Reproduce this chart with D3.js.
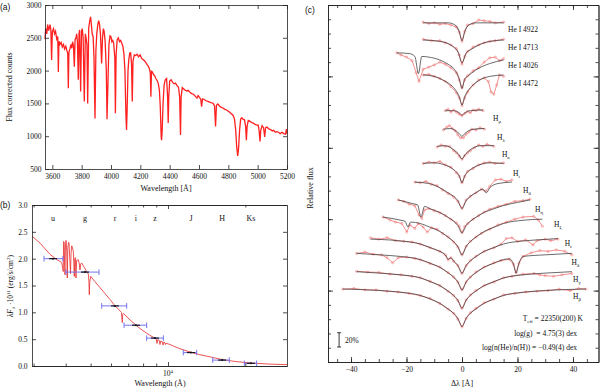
<!DOCTYPE html>
<html>
<head>
<meta charset="utf-8">
<script src="https://cdn.jsdelivr.net/npm/d3@7"></script>
<style>
  body { margin: 0; background: #fff; }
  svg text { font-family: "Liberation Serif", "DejaVu Serif", serif; fill: #111; white-space: pre; }
</style>
</head>
<body>
<svg id="fig" width="600" height="389"></svg>
<script>

// (a) observed spectrum, [wavelength A, counts]
var spectrumA = [
  [3550,2480],[3555,2640],[3562,2560],[3568,2700],[3575,2610],[3584,2700],[3590,2620],[3595,2160],[3600,2590],
  [3608,2640],[3615,2560],[3622,2600],[3630,2480],[3637,2520],[3641,1980],[3645,2450],[3652,2400],[3660,2430],
  [3668,2360],[3676,2400],[3684,2330],[3692,2370],[3700,2300],[3705,2260],[3709,1730],[3713,2280],[3720,2330],
  [3727,2400],[3733,2340],[3738,2440],[3744,2380],[3750,2060],[3755,2470],[3761,2500],[3766,2560],[3771,2440],
  [3777,1860],[3782,2560],[3786,2620],[3793,1680],[3799,2600],[3804,2640],[3810,2500],[3818,1530],[3825,2560],
  [3830,2500],[3836,2400],[3841,1500],[3848,2650],[3855,2760],[3861,2820],[3866,2700],[3872,2560],[3878,2520],
  [3884,2200],[3891,1270],[3897,2300],[3903,2560],[3910,2700],[3916,2760],[3922,2700],[3928,2560],[3936,2110],
  [3942,2500],[3948,2640],[3953,2600],[3960,2450],[3968,2000],[3973,1260],[3979,1800],[3986,2400],[3993,2530],
  [3999,2520],[4006,2440],[4012,2460],[4018,2420],[4026,2200],[4030,1350],[4035,2250],[4042,2470],[4050,2500],
  [4058,2440],[4066,2460],[4073,2420],[4080,2380],[4088,2260],[4095,2000],[4102,1300],[4106,1095],[4110,1400],
  [4116,2000],[4121,2160],[4128,2270],[4134,2270],[4140,2100],[4145,1530],[4150,2150],[4159,2240],[4168,2230],
  [4178,2250],[4188,2210],[4198,2240],[4208,2190],[4218,2170],[4228,2150],[4238,2120],[4246,2090],[4254,2070],
  [4262,2030],[4268,1960],[4272,1600],[4276,1990],[4282,1980],[4290,1940],[4298,1920],[4306,1880],[4314,1850],
  [4322,1810],[4330,1700],[4336,1450],[4342,1000],[4345,940],[4349,1100],[4355,1500],[4362,1780],[4370,1860],
  [4379,1880],[4386,1600],[4390,1200],[4394,1600],[4400,1840],[4410,1860],[4420,1820],[4430,1800],[4440,1810],
  [4450,1770],[4460,1750],[4468,1600],[4474,1020],[4478,1600],[4486,1740],[4496,1720],[4506,1700],[4516,1690],
  [4526,1700],[4538,1670],[4550,1650],[4562,1640],[4574,1610],[4586,1580],[4594,1620],[4604,1590],[4612,1560],
  [4618,1450],[4624,1570],[4636,1560],[4648,1540],[4660,1530],[4672,1520],[4684,1510],[4696,1500],[4706,1460],
  [4713,1150],[4719,1470],[4728,1490],[4740,1460],[4752,1440],[4764,1430],[4776,1410],[4788,1400],[4800,1380],
  [4812,1360],[4822,1340],[4832,1320],[4842,1260],[4850,1100],[4857,840],[4864,700],[4870,820],[4877,1100],
  [4884,1260],[4892,1280],[4900,1260],[4910,1250],[4918,1150],[4923,940],[4928,1150],[4936,1240],[4946,1230],
  [4958,1210],[4970,1200],[4982,1180],[4994,1170],[5004,1170],[5010,1080],[5016,920],[5021,1090],[5030,1160],
  [5040,1130],[5048,990],[5054,1130],[5064,1140],[5076,1110],[5088,1100],[5100,1080],[5110,1090],[5120,1060],
  [5130,1070],[5142,1060],[5154,1040],[5166,1060],[5178,1040],[5190,1030],[5196,1110],[5200,1040]
]

// (b) photometry and model SED
var bands = ["u", "g", "r", "i", "z", "J", "H", "Ks"]
var bandWave = [3568, 4754, 6221, 7505, 8895, 12287, 16230, 21030]
var bandFlux = [2.0, 1.75, 1.12, 0.76, 0.52, 0.25, 0.11, 0.05]
var bandLo = [3293, 4010, 5520, 6745, 8260, 11470, 14930, 19810]
var bandHi = [3900, 5390, 6906, 8260, 9590, 12930, 17320, 22120]

var sedModel = [
  [2960,2.42],[3177,2.29],[3475,2.08],[3700,1.98],[3858,1.93],[3900,1.80],[3913,1.76],
  [3925,2.32],[3945,2.30],[3962,1.85],[3974,1.70],[3988,2.2],[4010,2.34],[4035,2.15],[4057,1.64],[4075,2.2],
  [4100,2.3],[4120,2.3],[4150,1.98],[4175,1.72],[4195,2.1],[4220,2.24],[4250,2.2],[4281,2.14],[4300,1.92],
  [4319,1.67],[4338,2.0],[4360,2.02],[4385,1.64],[4410,1.97],[4477,1.98],[4520,1.9],[4545,1.79],[4575,1.9],
  [4615,1.92],[4720,1.84],[4827,1.76],[4900,1.71],[4925,1.56],[4941,1.33],[4960,1.56],[5003,1.67],[5200,1.57],
  [5438,1.46],[5687,1.35],[5946,1.24],[6221,1.12],[6505,1.03],[6590,1.0],[6622,0.86],[6640,0.81],[6665,0.96],
  [6700,0.98],[6804,0.95],[7115,0.86],[7505,0.76],[7780,0.70],[8150,0.63],[8511,0.57],[8895,0.52],[9000,0.505],
  [9062,0.42],[9120,0.49],[9250,0.475],[9309,0.40],[9370,0.465],[9500,0.45],[9562,0.39],[9620,0.445],[9735,0.43],
  [9780,0.40],[9830,0.425],[10180,0.40],[11000,0.33],[12287,0.255],[13318,0.21],[14570,0.17],[16230,0.12],
  [18210,0.085],[21030,0.055],[24920,0.035],[29040,0.025]
]

// (c) line profiles, top to bottom, [delta lambda, relative flux]
var lineNames = ["He I 4922", "He I 4713", "He I 4026", "He I 4472", "Hμ", "Hλ", "Hκ", "Hι", "Hθ", "Hη", "Hζ", "Hε", "Hδ", "Hγ", "Hβ"]

var fitProfiles = [
  [[-14,4.75],[-5,4.75],[-2.5,4.72],[-1,4.63],[0,4.5],[1,4.63],[2.5,4.72],[5,4.75],[15,4.75]],
  [[-14,4.51],[-8,4.49],[-5,4.46],[-3,4.41],[-1.4,4.34],[0,4.19],[1.5,4.33],[3,4.37],[6,4.44],[10,4.49],[15,4.51]],
  [[-23.5,4.33],[-19,4.32],[-17,4.28],[-15.7,4.04],[-14.5,4.28],[-12,4.27],[-8,4.23],[-5,4.17],[-3,4.11],[-1,3.97],[0,3.83],[1,3.97],[2,4.0],[5,4.09],[10,4.18],[15,4.23]],
  [[-14,4.02],[-10,4.0],[-6,3.93],[-4,3.88],[-2,3.79],[-1,3.72],[0,3.6],[1,3.72],[2,3.79],[4,3.88],[6,3.94],[10,4.0],[15,4.02]],
  [[-6,3.52],[-3,3.52],[-1,3.49],[0,3.46],[1,3.49],[3,3.52],[7.6,3.53]],
  [[-6.7,3.26],[-4,3.27],[-2,3.23],[-1,3.2],[0,3.16],[1,3.2],[2,3.23],[4,3.26],[8.1,3.27]],
  [[-9,3.02],[-6,3.03],[-4,3.0],[-2,2.94],[-1,2.9],[0,2.84],[1,2.9],[2,2.94],[4,3.0],[7,3.03],[11.5,3.03]],
  [[-14,2.78],[-10,2.79],[-7,2.77],[-4,2.72],[-2,2.66],[-1,2.61],[0,2.51],[1,2.61],[2,2.66],[4,2.72],[7,2.77],[10,2.79],[15,2.78]],
  [[-17,2.52],[-12,2.5],[-8,2.44],[-5,2.37],[-3,2.32],[-1.5,2.26],[0,2.15],[1.5,2.26],[3,2.32],[5,2.37],[7.5,2.42],[8.8,2.37],[10,2.44],[13,2.5],[18,2.52]],
  [[-23,2.27],[-18,2.22],[-16,2.2],[-14.8,2.03],[-13.5,2.18],[-11.5,2.146],[-8,2.095],[-5,2.026],[-3,1.971],[-1.5,1.911],[0,1.81],[1.5,1.911],[3,1.971],[5,2.026],[8,2.095],[11.5,2.146],[15,2.192],[20,2.235],[24.5,2.27]],
  [[-28.5,2.03],[-22,1.985],[-20.5,1.97],[-19.5,1.89],[-18.5,1.96],[-15,1.94],[-11.5,1.887],[-8,1.829],[-5,1.749],[-3,1.686],[-1.5,1.617],[0,1.5],[1.5,1.617],[3,1.686],[5,1.749],[8,1.829],[11.5,1.887],[15,1.94],[22,1.985],[29,2.0]],
  [[-33,1.72],[-30,1.717],[-22,1.695],[-15,1.653],[-11.5,1.603],[-8,1.549],[-6,1.5],[-5,1.44],[-4,1.46],[-3,1.415],[-1.5,1.351],[0,1.242],[1.5,1.351],[3,1.415],[5,1.475],[8,1.549],[11.5,1.603],[15,1.653],[22,1.695],[30,1.717],[34.6,1.73]],
  [[-38,1.522],[-30,1.501],[-22,1.478],[-15,1.435],[-11.5,1.383],[-8,1.327],[-5,1.25],[-3,1.188],[-1.5,1.121],[0,1.008],[1.5,1.121],[3,1.188],[5,1.25],[8,1.327],[11.5,1.383],[15,1.435],[17,1.445],[18.5,1.38],[19.5,1.245],[20.5,1.38],[22,1.478],[30,1.501],[39.6,1.522]],
  [[-38,1.265],[-30,1.245],[-22,1.221],[-15,1.178],[-11.5,1.126],[-8,1.07],[-5,0.993],[-3,0.932],[-1.5,0.865],[0,0.752],[1.5,0.865],[3,0.932],[5,0.993],[8,1.07],[11.5,1.126],[15,1.178],[22,1.221],[30,1.245],[39.6,1.265]],
  [[-43,1.022],[-30,1.002],[-22,0.977],[-15,0.932],[-11.5,0.882],[-8,0.822],[-5,0.742],[-3,0.682],[-1.5,0.612],[0,0.497],[1.5,0.612],[3,0.682],[5,0.742],[8,0.822],[11.5,0.882],[15,0.932],[22,0.977],[30,1.002],[44.7,1.022]]
]

var obsProfiles = [
  [[-14,4.76],[-12,4.74],[-10,4.75],[-8,4.73],[-6,4.74],[-4,4.72],[-2,4.69],[-1,4.62],[0,4.49],[1,4.63],[2,4.72],[4,4.74],[6,4.79],[8,4.78],[10,4.77],[12,4.75],[15,4.76]],
  [[-14,4.52],[-11,4.5],[-8,4.5],[-6,4.47],[-4,4.44],[-2,4.39],[-1,4.3],[0,4.17],[1,4.28],[2,4.35],[4,4.41],[6,4.44],[8,4.47],[10,4.49],[12,4.5],[15,4.52]],
  [[-23.5,4.33],[-22,4.3],[-20,4.27],[-18,4.22],[-16.5,4.05],[-15.5,3.93],[-14,4.1],[-12,4.13],[-10,4.16],[-8,4.2],[-6,4.17],[-4,4.12],[-2,4.05],[-1,3.95],[0,3.84],[1,3.95],[2,4.01],[4,4.08],[6,4.12],[8,4.2],[10,4.26],[12,4.27],[13.5,4.22],[15,4.25]],
  [[-14,4.02],[-12,4.03],[-10,4.0],[-8,3.97],[-6,3.93],[-4,3.86],[-2,3.77],[-1,3.7],[0,3.59],[1,3.7],[2,3.78],[4,3.88],[6,3.95],[8,3.98],[9.5,3.93],[10.5,3.78],[11.5,3.75],[12.5,3.88],[13.5,4.02],[15,4.0]],
  [[-6,3.52],[-5,3.54],[-4,3.5],[-3,3.53],[-2,3.5],[-1,3.47],[0,3.45],[1,3.48],[2,3.51],[3,3.49],[4,3.53],[5,3.52],[6,3.54],[7.6,3.52]],
  [[-6.7,3.25],[-5.5,3.29],[-4.5,3.31],[-3.5,3.27],[-2.5,3.24],[-1.5,3.18],[-0.5,3.14],[0.5,3.14],[1.5,3.19],[2.5,3.22],[3.5,3.26],[5,3.25],[6.5,3.28],[8.1,3.26]],
  [[-9,3.01],[-7.5,3.04],[-6,3.02],[-4.5,3.02],[-3,2.96],[-2,2.93],[-1,2.88],[0,2.84],[1,2.89],[2,2.93],[3,2.96],[4.5,3.0],[6,3.04],[7.5,3.02],[9,3.05],[11.5,3.02]],
  [[-14,2.78],[-12,2.8],[-10,2.79],[-8,2.81],[-6,2.76],[-4,2.73],[-2,2.65],[-1,2.6],[0,2.51],[1,2.6],[2,2.67],[4,2.71],[6,2.76],[8,2.79],[10,2.8],[12,2.78],[15,2.79]],
  [[-17,2.52],[-15,2.51],[-13,2.53],[-11,2.49],[-9,2.47],[-7,2.41],[-5,2.36],[-3,2.31],[-1.5,2.25],[0,2.15],[1.5,2.27],[3,2.32],[5,2.37],[7,2.42],[8.5,2.39],[10,2.46],[12,2.55],[14,2.56],[16,2.53],[18,2.55]],
  [[-23,2.27],[-21,2.25],[-19,2.21],[-17,2.19],[-15.5,2.06],[-14.5,2.01],[-13.5,2.13],[-12,2.15],[-10,2.12],[-8,2.09],[-6,2.05],[-4,2.0],[-2,1.95],[-1,1.9],[0,1.81],[1,1.9],[2,1.94],[4,2.0],[6,2.05],[8,2.1],[10,2.14],[13,2.18],[16,2.21],[19,2.25],[22,2.26],[24.5,2.28]],
  [[-28.5,2.03],[-26,1.99],[-24,1.96],[-21.7,1.94],[-19.9,1.82],[-18.8,1.92],[-17,1.87],[-15.8,1.94],[-14,1.89],[-12.5,1.82],[-11,1.88],[-9,1.86],[-7,1.8],[-5,1.75],[-3,1.68],[-1.5,1.61],[0,1.5],[1.5,1.62],[3,1.69],[5,1.75],[7,1.8],[10,1.86],[13,1.92],[16,1.96],[19,2.0],[22,2.03],[25.8,2.04],[27.5,1.99],[29,1.9]],
  [[-33,1.74],[-30,1.72],[-27,1.74],[-24,1.7],[-21,1.69],[-18,1.68],[-15,1.65],[-11.5,1.6],[-8,1.55],[-6,1.5],[-5,1.43],[-4,1.46],[-3,1.41],[-1.5,1.35],[0,1.24],[1.5,1.35],[3,1.42],[5,1.48],[8,1.55],[11.5,1.6],[14,1.65],[16,1.73],[18,1.74],[20,1.69],[23,1.71],[25.6,1.64],[27,1.7],[30,1.72],[32,1.7],[34.6,1.72]],
  [[-38,1.52],[-35,1.54],[-32,1.51],[-29,1.5],[-27,1.46],[-25,1.39],[-23,1.46],[-20,1.47],[-17,1.45],[-15,1.43],[-11.5,1.38],[-8,1.33],[-5,1.25],[-3,1.19],[-1.5,1.12],[0,1.01],[1.5,1.12],[3,1.19],[5,1.26],[8,1.33],[11.5,1.39],[14,1.42],[17,1.44],[18.5,1.37],[19.5,1.25],[20.5,1.38],[22,1.48],[25,1.53],[28,1.56],[31,1.55],[34,1.57],[37,1.55],[39.6,1.5]],
  [[-38,1.27],[-34,1.26],[-30,1.255],[-26,1.23],[-22,1.22],[-18,1.2],[-15,1.18],[-11.5,1.13],[-8,1.07],[-5,0.99],[-3,0.93],[-1.5,0.86],[0,0.75],[1.5,0.87],[3,0.94],[5,1.0],[8,1.07],[11.5,1.12],[15,1.18],[18,1.2],[22,1.23],[26,1.24],[28,1.22],[30,1.21],[33,1.2],[36,1.22],[39.6,1.24]],
  [[-43,1.02],[-39,1.03],[-35,1.01],[-31,1.01],[-27,0.99],[-23,0.98],[-19,0.96],[-15,0.93],[-11.5,0.89],[-8,0.82],[-5,0.74],[-3,0.68],[-1.5,0.6],[0,0.49],[1.5,0.61],[3,0.69],[5,0.75],[8,0.83],[11.5,0.88],[15,0.94],[19,0.96],[23,0.98],[27,0.99],[31,1.0],[35,1.02],[39,1.0],[42,1.03],[44.7,1.02]]
]

// where each line name sits, [delta lambda, relative flux]
var labelSpot = [[16.6,4.66],[16.6,4.41],[16.6,4.16],[16.6,3.91],[11.2,3.42],[12.6,3.15],[14.4,2.91],[18.4,2.65],
                 [22,2.41],[26.3,2.14],[33.2,1.93],[37,1.67],[39.5,1.40],[40,1.16],[40,0.915]]

var serif = "Liberation Serif, DejaVu Serif, serif"
var sans = "Liberation Sans, Arial, sans-serif"

window.onload = drawFigure

function drawFigure()
{
  svg = d3.select("#fig")
  drawSpectrum(svg)
  drawSed(svg)
  drawLineFits(svg)
}

// common look of every axis
function styleAxis(sel)
{
  sel.attr("font-family", null).attr("font-size", null)
  sel.selectAll("path, line").attr("stroke", "#222").attr("stroke-width", 0.8)
  sel.selectAll("text").attr("font-family", serif).attr("font-size", 7.5).attr("fill", "#111")
}

function panelTag(svg, label, x, y)
{
  svg.append("text").attr("x", x).attr("y", y)
     .style("font-family", sans).attr("font-size", 8.5).text(label)
}

function drawSpectrum(svg)
{
  var x = d3.scaleLinear().domain([3550, 5200]).range([45, 287])
  var y = d3.scaleLinear().domain([500, 3000]).range([169, 5])
  var waveTicks = d3.range(3600, 5201, 200)
  var countTicks = d3.range(500, 3001, 500)

  svg.append("path").datum(spectrumA)
     .attr("fill", "none").attr("stroke", "#ff2020").attr("stroke-width", 1.3)
     .attr("d", d3.line().x(d => x(d[0])).y(d => y(d[1])))

  svg.append("g").attr("transform", "translate(0,169)")
     .call(d3.axisBottom(x).tickValues(waveTicks).tickSize(-4).tickSizeOuter(0).tickPadding(5).tickFormat(d3.format("d")))
     .call(styleAxis)
  svg.append("g").attr("transform", "translate(0,5)")
     .call(d3.axisTop(x).tickValues(waveTicks).tickSize(-4).tickSizeOuter(0).tickFormat(""))
     .call(styleAxis)
  svg.append("g").attr("transform", "translate(45,0)")
     .call(d3.axisLeft(y).tickValues(countTicks).tickSize(-4).tickSizeOuter(0).tickPadding(3.5).tickFormat(d3.format("d")))
     .call(styleAxis)
  svg.append("g").attr("transform", "translate(287,0)")
     .call(d3.axisRight(y).tickValues(countTicks).tickSize(-4).tickSizeOuter(0).tickFormat(""))
     .call(styleAxis)

  svg.append("text").attr("x", 166).attr("y", 190.5).attr("text-anchor", "middle")
     .attr("font-size", 8).text("Wavelength [Å]")
  svg.append("text").attr("transform", "translate(12,87) rotate(-90)").attr("text-anchor", "middle")
     .attr("font-size", 8).text("Flux corrected counts")

  panelTag(svg, "(a)", 0, 9.5)
}

function drawSed(svg)
{
  var x = d3.scaleLog().domain([2957, 29040]).range([32, 287])
  var y = d3.scaleLinear().domain([0, 3]).range([366, 205])
  var minorWaves = [3000, 4000, 5000, 6000, 7000, 8000, 9000, 20000]
  var fluxTicks = d3.range(0, 3.01, 0.5)

  // model
  svg.append("path").datum(sedModel)
     .attr("fill", "none").attr("stroke", "#e8282a").attr("stroke-width", 0.8)
     .attr("d", d3.line().x(d => x(d[0])).y(d => y(d[1])))

  // photometric points with band widths
  var pts = svg.append("g")
  bands.forEach(function(b, i)
  {
    var cy = y(bandFlux[i])
    var x0 = x(bandLo[i]), x1 = x(bandHi[i]), xc = x(bandWave[i])
    pts.append("line").attr("x1", x0).attr("x2", x1).attr("y1", cy).attr("y2", cy)
       .attr("stroke", "#7474ee").attr("stroke-width", 1)
    ;[x0, x1].forEach(function(e)
    {
      pts.append("line").attr("x1", e).attr("x2", e).attr("y1", cy - 2.8).attr("y2", cy + 2.8)
         .attr("stroke", "#7474ee").attr("stroke-width", 1)
    })
    pts.append("line").attr("x1", xc - 4).attr("x2", xc + 4).attr("y1", cy).attr("y2", cy)
       .attr("stroke", "#111").attr("stroke-width", 1.1)
    pts.append("circle").attr("cx", xc).attr("cy", cy).attr("r", 1).attr("fill", "#111")

    svg.append("text").attr("x", xc).attr("y", 221).attr("text-anchor", "middle")
       .attr("font-size", 8).text(b)
  })

  svg.append("g").attr("transform", "translate(0,366)")
     .call(d3.axisBottom(x).tickValues(minorWaves).tickSize(-2.5).tickSizeOuter(0).tickFormat(""))
     .call(styleAxis)
  svg.append("g").attr("transform", "translate(0,366)")
     .call(d3.axisBottom(x).tickValues([10000]).tickSize(-4).tickSizeOuter(0).tickFormat(""))
     .call(styleAxis)
  svg.append("g").attr("transform", "translate(0,205)")
     .call(d3.axisTop(x).tickValues(minorWaves).tickSize(-2.5).tickSizeOuter(0).tickFormat(""))
     .call(styleAxis)
  svg.append("g").attr("transform", "translate(0,205)")
     .call(d3.axisTop(x).tickValues([10000]).tickSize(-4).tickSizeOuter(0).tickFormat(""))
     .call(styleAxis)
  svg.append("g").attr("transform", "translate(32,0)")
     .call(d3.axisLeft(y).tickValues(fluxTicks).tickSize(-4).tickSizeOuter(0).tickPadding(4.5).tickFormat(d3.format(".1f")))
     .call(styleAxis)
  svg.append("g").attr("transform", "translate(287,0)")
     .call(d3.axisRight(y).tickValues(fluxTicks).tickSize(-4).tickSizeOuter(0).tickFormat(""))
     .call(styleAxis)

  var ten = svg.append("text").attr("x", x(10000)).attr("y", 375.5).attr("text-anchor", "middle").attr("font-size", 7.5)
  ten.append("tspan").text("10")
  ten.append("tspan").attr("dy", -3).attr("font-size", 5).text("4")

  svg.append("text").attr("x", 160).attr("y", 386).attr("text-anchor", "middle")
     .attr("font-size", 8).text("Wavelength (Å)")

  var yl = svg.append("text").attr("transform", "translate(13,286) rotate(-90)").attr("text-anchor", "middle").attr("font-size", 7.5)
  yl.append("tspan").attr("font-style", "italic").text("λF")
  yl.append("tspan").attr("font-style", "italic").attr("dy", 1.8).attr("font-size", 5).text("λ")
  yl.append("tspan").attr("dy", -1.8).text(" ·10")
  yl.append("tspan").attr("dy", -3).attr("font-size", 5).text("11")
  yl.append("tspan").attr("dy", 3).text(" (erg/s/cm")
  yl.append("tspan").attr("dy", -3).attr("font-size", 5).text("2")
  yl.append("tspan").attr("dy", 3).text(")")

  panelTag(svg, "(b)", 0, 208)
}

function drawLineFits(svg)
{
  var x = d3.scaleLinear().domain([-48.3, 49.2]).range([328, 598.5])
  var y = d3.scaleLinear().domain([0, 5]).range([362, 5])
  var obsLine = d3.line().x(d => x(d[0])).y(d => y(d[1]))
  var fitLine = d3.line().x(d => x(d[0])).y(d => y(d[1])).curve(d3.curveMonotoneX)

  var body = svg.append("g")
  obsProfiles.forEach(function(prof, i)
  {
    body.append("path").datum(prof).attr("d", obsLine)
        .attr("fill", "none").attr("stroke", "#f07272").attr("stroke-width", 0.8)
    body.selectAll(".o" + i).data(prof).enter().append("circle")
        .attr("cx", d => x(d[0])).attr("cy", d => y(d[1])).attr("r", 1.1)
        .attr("fill", "none").attr("stroke", "#f07272").attr("stroke-width", 0.5)
  })
  fitProfiles.forEach(function(prof)
  {
    body.append("path").datum(prof).attr("d", fitLine)
        .attr("fill", "none").attr("stroke", "#3a3a3a").attr("stroke-width", 0.75)
  })

  // line names
  lineNames.forEach(function(name, i)
  {
    var t = svg.append("text").attr("x", x(labelSpot[i][0])).attr("y", y(labelSpot[i][1]) + 2.8).attr("font-size", 7.5)
    if (name.length == 2)
    {
      t.append("tspan").text("H")
      t.append("tspan").attr("dy", 2).attr("font-size", 5).text(name[1])
    }
    else
    {
      t.text(name)
    }
  })

  // axes
  var minorX = d3.range(-45, 46, 5)
  var majorX = [-40, -20, 0, 20, 40]
  var minorY = d3.range(0, 5.01, 0.2)
  var majorY = d3.range(0, 6, 1)
  svg.append("g").attr("transform", "translate(0,362)")
     .call(d3.axisBottom(x).tickValues(minorX).tickSize(-3).tickSizeOuter(0).tickFormat("")).call(styleAxis)
  svg.append("g").attr("transform", "translate(0,362)")
     .call(d3.axisBottom(x).tickValues(majorX).tickSize(-5).tickSizeOuter(0).tickPadding(5)).call(styleAxis)
  svg.append("g").attr("transform", "translate(0,5)")
     .call(d3.axisTop(x).tickValues(minorX).tickSize(-3).tickSizeOuter(0).tickFormat("")).call(styleAxis)
  svg.append("g").attr("transform", "translate(0,5)")
     .call(d3.axisTop(x).tickValues(majorX).tickSize(-5).tickSizeOuter(0).tickFormat("")).call(styleAxis)
  svg.append("g").attr("transform", "translate(328,0)")
     .call(d3.axisLeft(y).tickValues(minorY).tickSize(-3).tickSizeOuter(0).tickFormat("")).call(styleAxis)
  svg.append("g").attr("transform", "translate(328,0)")
     .call(d3.axisLeft(y).tickValues(majorY).tickSize(-5).tickSizeOuter(0).tickFormat("")).call(styleAxis)
  svg.append("g").attr("transform", "translate(598.5,0)")
     .call(d3.axisRight(y).tickValues(minorY).tickSize(-3).tickSizeOuter(0).tickFormat("")).call(styleAxis)
  svg.append("g").attr("transform", "translate(598.5,0)")
     .call(d3.axisRight(y).tickValues(majorY).tickSize(-5).tickSizeOuter(0).tickFormat("")).call(styleAxis)

  svg.append("text").attr("x", x(0)).attr("y", 385.5).attr("text-anchor", "middle")
     .attr("font-size", 8).text("Δλ [Å]")
  svg.append("text").attr("transform", "translate(313,188) rotate(-90)").attr("text-anchor", "middle")
     .attr("font-size", 8).text("Relative flux")

  // 20% scale bar
  var bx = x(-44.3)
  var bar = svg.append("g").attr("stroke", "#222").attr("stroke-width", 0.9)
  bar.append("line").attr("x1", bx).attr("x2", bx).attr("y1", y(0.21)).attr("y2", y(0.41))
  bar.append("line").attr("x1", bx - 2).attr("x2", bx + 2).attr("y1", y(0.21)).attr("y2", y(0.21))
  bar.append("line").attr("x1", bx - 2).attr("x2", bx + 2).attr("y1", y(0.41)).attr("y2", y(0.41))
  svg.append("text").attr("x", bx + 6).attr("y", y(0.31) + 2.8).attr("font-size", 7.5).text("20%")

  // fit results
  var t1 = svg.append("text").attr("x", 583).attr("y", 321).attr("text-anchor", "end").attr("font-size", 7.5)
  t1.append("tspan").text("T")
  t1.append("tspan").attr("dy", 2).attr("font-size", 5).text("eff")
  t1.append("tspan").attr("dy", -2).text(" = 22350(200) K")
  svg.append("text").attr("x", 577).attr("y", 336).attr("text-anchor", "end").attr("font-size", 7.5)
     .text("log(g)  = 4.75(3) dex")
  svg.append("text").attr("x", 577).attr("y", 350).attr("text-anchor", "end").attr("font-size", 7.5)
     .text("log(n(He)/n(H)) = −0.49(4) dex")

  panelTag(svg, "(c)", 305, 13)
}
</script>
</body>
</html>
